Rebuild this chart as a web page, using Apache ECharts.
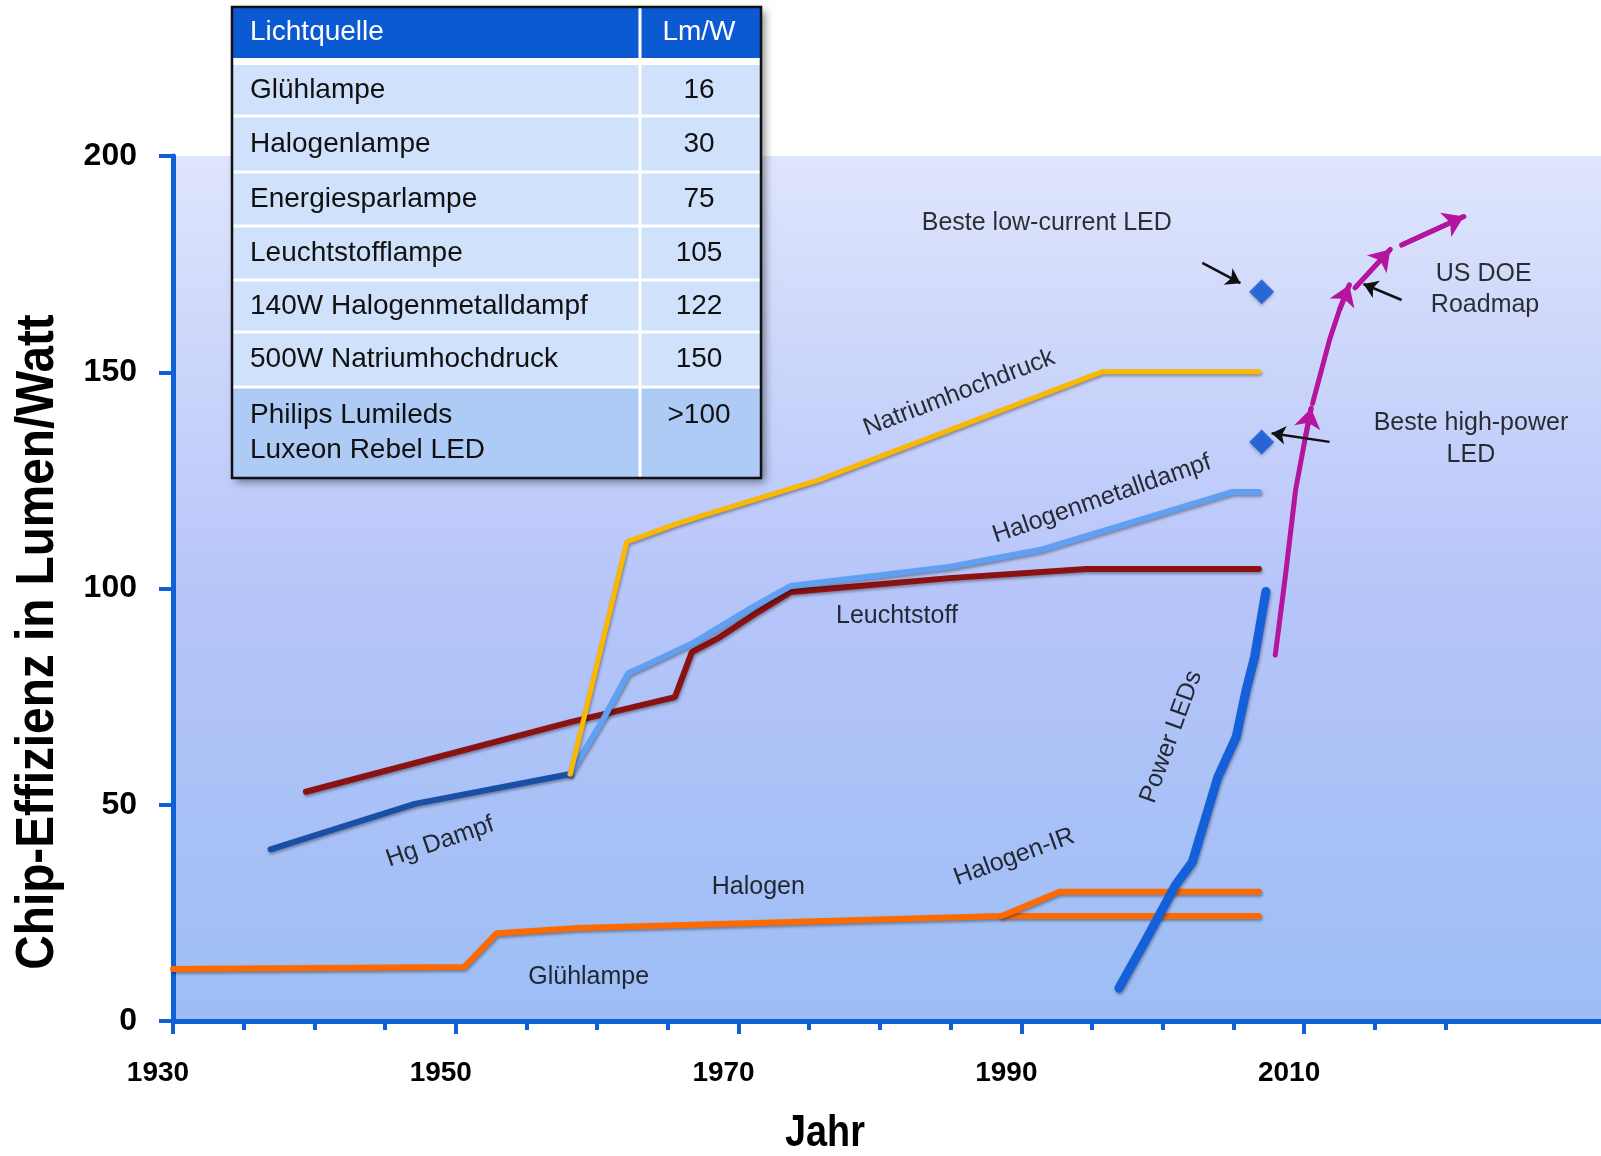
<!DOCTYPE html>
<html>
<head>
<meta charset="utf-8">
<title>Chip-Effizienz</title>
<script src="https://cdn.jsdelivr.net/npm/echarts@6/dist/echarts.min.js"></script>
<style>
html, body { margin: 0; padding: 0; background: #ffffff; }
#chart { width: 1601px; height: 1156px; }
</style>
</head>
<body>
<div id="chart"></div>
<script>
// Kurven: [Jahr, Lumen/Watt]
const gluehlampe = [[1930, 12.0], [1950.6, 12.5], [1952.9, 20.3], [1958.7, 21.5], [1988.6, 24.3], [2006.8, 24.3]];
const halogenIR = [[1988.6, 24.3], [1992.7, 29.9], [2006.8, 29.9]];
const hgDampf = [[1936.9, 39.7], [1947.1, 50.2], [1958.1, 57.1]];
const halogenmetalldampf = [[1958.1, 57.1], [1960.4, 69.6], [1962.2, 80.4], [1963.8, 82.8], [1966.9, 87.6], [1971.0, 95.7],
    [1973.7, 100.6], [1984.9, 105.0], [1991.3, 108.9], [2004.9, 122.3], [2006.8, 122.3]];
const leuchtstoff = [[1939.4, 53.0], [1958.1, 69.1], [1965.5, 74.9], [1966.7, 85.3], [1968.6, 88.6], [1971.4, 94.6],
    [1973.7, 99.2], [1984.9, 102.4], [1994.6, 104.5], [2006.8, 104.5]];
const natriumhochdruck = [[1958.1, 57.1], [1962.1, 110.8], [1965.4, 114.7], [1967.6, 117.0], [1975.7, 125.1],
    [1995.7, 150.1], [2006.8, 150.1]];
const powerLEDs = [[1996.9, 7.6], [1998.8, 18.7], [2000.9, 31.4], [2002.1, 36.8], [2003.9, 56.4], [2005.2, 65.7],
    [2005.9, 76.5], [2006.5, 84.2], [2007.3, 99.3]];

// US DOE Roadmap (Pfeile)
const roadmap = [
    [[2007.96, 84.6], [2008.7, 103.5], [2009.4, 122.8], [2010.1, 135.1], [2010.5, 141.7]],
    [[2010.6, 142.8], [2011.8, 157.5], [2012.5, 164.4], [2013.2, 170.2]],
    [[2013.6, 169.5], [2016.1, 178.4]],
    [[2016.9, 179.4], [2021.3, 186.0]]
];

// beste LEDs (Rauten)
const besteLEDs = [[2007.0, 168.6], [2007.0, 133.9]];

// schwarze Hinweispfeile
const hinweisPfeile = [
    [[2002.8, 175.3], [2005.5, 170.6]],
    [[2011.8, 133.9], [2007.7, 135.9]],
    [[2016.9, 166.7], [2014.2, 170.4]]
];

// Beschriftungen im Diagramm
const labelTexts = ['Natriumhochdruck', 'Halogenmetalldampf', 'Leuchtstoff', 'Hg Dampf', 'Halogen', 'Halogen-IR',
    'Glühlampe', 'Power LEDs', 'Beste low-current LED', 'US DOE', 'Roadmap', 'Beste high-power', 'LED'];
const labelAnchors = [[1985.6, 145.2], [1995.7, 120.7], [1981.2, 93.6], [1948.9, 41.4], [1971.4, 31.0], [1989.5, 37.9],
    [1959.4, 10.2], [2000.6, 65.7], [1991.8, 184.5], [2022.7, 172.7], [2022.8, 165.5], [2021.8, 138.3], [2021.8, 130.9]];
const labelRotation = [21, 19, 0, 19, 0, 20, 0, 70, 0, 0, 0, 0, 0];

// Tabelle
const tabelleKopf = ['Lichtquelle', 'Lm/W'];
const tabelleLichtquelle = ['Glühlampe', 'Halogenlampe', 'Energiesparlampe', 'Leuchtstofflampe',
    '140W Halogenmetalldampf', '500W Natriumhochdruck', 'Philips Lumileds\nLuxeon Rebel LED'];
const tabelleLmW = ['16', '30', '75', '105', '122', '150', '>100'];

// Achsen
const xLabelYears = [1930, 1950, 1970, 1990, 2010];
const xMinorYears = [1935, 1940, 1945, 1955, 1960, 1965, 1975, 1980, 1985, 1995, 2000, 2005, 2015, 2020];

const FONT = "'Liberation Sans', Arial, sans-serif";
const AXIS_BLUE = '#0f5fd6';
const MAGENTA = '#b4149e';

let chart;

function lineSeries(name, data, color, width) {
    return {
        name: name,
        type: 'line',
        data: data,
        showSymbol: false,
        silent: true,
        z: 3,
        lineStyle: {
            color: color,
            width: width,
            cap: 'round',
            shadowColor: 'rgba(0,0,0,0.35)',
            shadowBlur: 3,
            shadowOffsetX: 1,
            shadowOffsetY: 2
        }
    };
}

// Tabelle als graphic-Elemente
function buildTable() {
    const x0 = 232, x1 = 761, colX = 640;
    const headTop = 7, headBottom = 58;
    const rowTops = [65, 116, 172, 226, 280, 332, 387, 478];
    const els = [];

    els.push({
        type: 'rect', z: 100,
        shape: { x: x0, y: headTop, width: x1 - x0, height: rowTops[7] - headTop },
        style: { fill: '#ffffff', shadowBlur: 8, shadowOffsetX: 4, shadowOffsetY: 4, shadowColor: 'rgba(0,0,0,0.45)' }
    });
    els.push({
        type: 'rect', z: 101,
        shape: { x: x0, y: headTop, width: x1 - x0, height: headBottom - headTop },
        style: { fill: '#0c5ad2' }
    });
    for (let i = 0; i < 7; i++) {
        els.push({
            type: 'rect', z: 101,
            shape: { x: x0, y: rowTops[i], width: x1 - x0, height: rowTops[i + 1] - rowTops[i] },
            style: { fill: i === 6 ? '#aecbf6' : '#d0e1fb' }
        });
        if (i > 0) {
            els.push({
                type: 'line', z: 102,
                shape: { x1: x0, y1: rowTops[i], x2: x1, y2: rowTops[i] },
                style: { stroke: '#ffffff', lineWidth: 3 }
            });
        }
    }
    els.push({
        type: 'line', z: 102,
        shape: { x1: colX, y1: headTop, x2: colX, y2: rowTops[7] },
        style: { stroke: '#ffffff', lineWidth: 3 }
    });
    els.push({
        type: 'rect', z: 103,
        shape: { x: x0, y: headTop, width: x1 - x0, height: rowTops[7] - headTop },
        style: { fill: 'none', stroke: '#111111', lineWidth: 2.5 }
    });

    // Kopfzeile
    els.push({
        type: 'text', z: 104, x: 250, y: (headTop + headBottom) / 2,
        style: { text: tabelleKopf[0], fill: '#ffffff', font: '28px ' + FONT, verticalAlign: 'middle' }
    });
    els.push({
        type: 'text', z: 104, x: 699, y: (headTop + headBottom) / 2,
        style: { text: tabelleKopf[1], fill: '#ffffff', font: '28px ' + FONT, align: 'center', verticalAlign: 'middle' }
    });

    for (let i = 0; i < tabelleLichtquelle.length; i++) {
        const mid = (rowTops[i] + rowTops[i + 1]) / 2;
        const last = i === tabelleLichtquelle.length - 1;
        els.push({
            type: 'text', z: 104, x: 250, y: last ? rowTops[i] + 11 : mid,
            style: {
                text: tabelleLichtquelle[i], fill: '#111111', font: '28px ' + FONT,
                verticalAlign: last ? 'top' : 'middle', lineHeight: 35
            }
        });
        els.push({
            type: 'text', z: 104, x: 699, y: last ? rowTops[i] + 11 : mid,
            style: {
                text: tabelleLmW[i], fill: '#111111', font: '28px ' + FONT,
                align: 'center', verticalAlign: last ? 'top' : 'middle', lineHeight: 35
            }
        });
    }
    return els;
}

function init() {
    chart = echarts.init(document.getElementById('chart'), null, { renderer: 'canvas' });

    const option = {
        animation: false,
        backgroundColor: '#ffffff',
        grid: {
            left: 173,
            top: 156,
            right: 0,
            bottom: 135,
            show: true,
            borderWidth: 0,
            backgroundColor: new echarts.graphic.LinearGradient(0, 0, 0, 1, [
                { offset: 0, color: '#dfe5fc' },
                { offset: 0.5, color: '#b7c5f9' },
                { offset: 1, color: '#9cbef5' }
            ])
        },
        xAxis: [
            {
                type: 'value',
                min: 1930,
                max: 2031,
                interval: 20,
                splitLine: { show: false },
                axisLine: { show: true, lineStyle: { color: AXIS_BLUE, width: 5 } },
                axisTick: { show: true, length: 13, lineStyle: { color: AXIS_BLUE, width: 4 }, customValues: xLabelYears },
                axisLabel: {
                    customValues: xLabelYears,
                    formatter: function(v) { return String(v); },
                    color: '#000000',
                    fontFamily: FONT,
                    fontWeight: 'bold',
                    fontSize: 28,
                    margin: 38,
                    padding: [0, 30, 0, 0]
                }
            },
            {
                type: 'value',
                min: 1930,
                max: 2031,
                position: 'bottom',
                splitLine: { show: false },
                axisLine: { show: false },
                axisTick: { show: true, length: 9, lineStyle: { color: AXIS_BLUE, width: 4 }, customValues: xMinorYears },
                axisLabel: { show: false }
            }
        ],
        yAxis: {
            type: 'value',
            min: 0,
            max: 200,
            interval: 50,
            splitLine: { show: false },
            axisLine: { show: true, lineStyle: { color: AXIS_BLUE, width: 5 } },
            axisTick: { show: true, length: 14, lineStyle: { color: AXIS_BLUE, width: 4 } },
            axisLabel: {
                color: '#000000',
                fontFamily: FONT,
                fontWeight: 'bold',
                fontSize: 32,
                margin: 36
            }
        },
        series: [
            lineSeries('Glühlampe', gluehlampe, '#ff6a00', 6),
            lineSeries('Halogen-IR', halogenIR, '#ff6a00', 6),
            lineSeries('Hg Dampf', hgDampf, '#1a4fa8', 6),
            lineSeries('Leuchtstoff', leuchtstoff, '#8a1212', 6),
            lineSeries('Halogenmetalldampf', halogenmetalldampf, '#5fa0f2', 6),
            lineSeries('Natriumhochdruck', natriumhochdruck, '#fbb800', 5),
            lineSeries('Power LEDs', powerLEDs, '#1460d8', 9),
            {
                // Roadmap-Linien
                name: 'US DOE Roadmap',
                type: 'lines',
                coordinateSystem: 'cartesian2d',
                polyline: true,
                silent: true,
                z: 4,
                lineStyle: { color: MAGENTA, width: 5, opacity: 1, cap: 'round', join: 'round' },
                data: roadmap.map(c => ({ coords: c }))
            },
            {
                // Pfeilspitzen am Ende jeder Roadmap-Linie
                name: 'US DOE Roadmap Spitzen',
                type: 'lines',
                coordinateSystem: 'cartesian2d',
                silent: true,
                z: 4,
                symbol: ['none', 'arrow'],
                symbolSize: 20,
                lineStyle: { color: MAGENTA, width: 5, opacity: 1 },
                data: roadmap.map(c => ({ coords: c.slice(-2) }))
            },
            {
                name: 'Hinweise',
                type: 'lines',
                coordinateSystem: 'cartesian2d',
                silent: true,
                z: 4,
                symbol: ['none', 'arrow'],
                symbolSize: 14,
                lineStyle: { color: '#111111', width: 2.5, opacity: 1 },
                data: hinweisPfeile.map(c => ({ coords: c }))
            },
            {
                name: 'Beste LEDs',
                type: 'scatter',
                symbol: 'diamond',
                symbolSize: 25,
                silent: true,
                z: 5,
                itemStyle: {
                    color: '#0a56d9',
                    shadowColor: 'rgba(0,0,0,0.3)',
                    shadowBlur: 3,
                    shadowOffsetY: 2
                },
                data: besteLEDs
            },
            {
                name: 'Beschriftung',
                type: 'scatter',
                symbolSize: 0,
                silent: true,
                z: 6,
                itemStyle: { color: 'rgba(0,0,0,0)' },
                label: {
                    show: true,
                    position: 'inside',
                    formatter: '{b}',
                    color: '#000000',
                    fontFamily: FONT,
                    fontSize: 25,
                    align: 'center',
                    verticalAlign: 'middle'
                },
                data: labelTexts.map((t, i) => ({
                    name: t,
                    value: labelAnchors[i],
                    label: { rotate: labelRotation[i] }
                }))
            }
        ],
        graphic: buildTable().concat([
            {
                type: 'text',
                x: 38,
                y: 642,
                rotation: Math.PI / 2,
                scaleX: 0.9,
                z: 50,
                style: {
                    text: 'Chip-Effizienz in Lumen/Watt',
                    fill: '#000000',
                    font: 'bold 53px ' + FONT,
                    align: 'center',
                    verticalAlign: 'middle'
                }
            },
            {
                type: 'text',
                x: 825,
                y: 1134,
                scaleX: 0.84,
                z: 50,
                style: {
                    text: 'Jahr',
                    fill: '#000000',
                    font: 'bold 45px ' + FONT,
                    align: 'center',
                    verticalAlign: 'middle'
                }
            }
        ])
    };

    chart.setOption(option);
}

window.addEventListener('DOMContentLoaded', init);
</script>
</body>
</html>
